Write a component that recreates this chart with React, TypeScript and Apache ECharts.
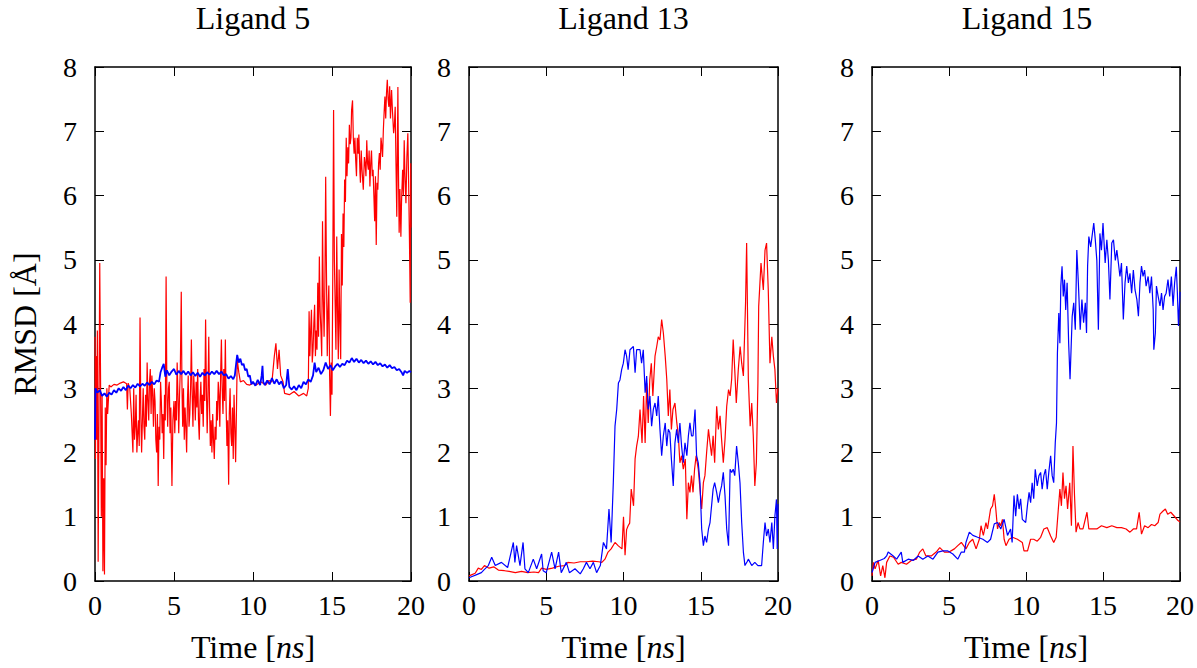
import React, { useEffect, useRef } from "react";
import * as echarts from "echarts";

type Pt = [number, number];

const panelTitles = ["Ligand 5", "Ligand 13", "Ligand 15"];
const xTicks = { min: 0, max: 20, interval: 5 };
const yTicks = { min: 0, max: 8, interval: 1 };

const lig5Red: Pt[] = [
  [0, 3.8], [0.03, 1.9], [0.06, 3.5], [0.1, 2.2], [0.15, 3.9], [0.2, 0.3], [0.25, 2.5], [0.3, 4.95], [0.35, 3.2], [0.4, 1.0],
  [0.45, 2.9], [0.5, 0.15], [0.55, 1.6], [0.6, 0.1], [0.65, 2.7], [0.7, 1.8], [0.75, 3.0], [0.8, 2.6], [0.9, 3.05], [1.0, 3.02],
  [1.2, 3.06], [1.4, 3.05], [1.6, 3.08], [1.8, 3.1], [2.0, 3.07], [2.05, 2.67], [2.1, 3.08], [2.2, 3.0], [2.3, 2.6],
  [2.4, 2.0], [2.45, 3.0], [2.5, 2.2], [2.55, 2.4], [2.6, 2.9], [2.65, 2.0], [2.7, 2.3], [2.75, 2.5], [2.8, 2.1], [2.85, 4.1],
  [2.9, 2.6], [2.95, 2.0], [3.0, 2.5], [3.05, 3.0], [3.1, 2.4], [3.15, 2.2], [3.2, 2.9], [3.25, 2.4], [3.3, 3.4], [3.35, 2.8],
  [3.4, 2.5], [3.45, 3.1], [3.5, 3.3], [3.55, 2.6], [3.6, 3.2], [3.65, 2.9], [3.7, 2.4], [3.75, 3.0], [3.8, 2.8], [3.85, 2.2],
  [3.9, 2.0], [3.95, 2.6], [4.0, 1.48], [4.05, 2.4], [4.1, 2.2], [4.15, 3.1], [4.2, 2.8], [4.25, 2.3], [4.3, 2.6], [4.35, 1.9],
  [4.4, 2.9], [4.45, 2.5], [4.5, 4.74], [4.55, 2.9], [4.6, 2.4], [4.65, 3.0], [4.7, 3.1], [4.75, 2.3], [4.8, 2.7], [4.87, 1.48],
  [4.93, 2.5], [5.0, 2.8], [5.05, 2.3], [5.1, 2.8], [5.15, 2.5], [5.2, 3.4], [5.25, 2.9], [5.3, 2.3], [5.35, 2.9], [5.4, 3.3],
  [5.46, 4.5], [5.5, 3.1], [5.55, 2.4], [5.6, 3.0], [5.65, 2.2], [5.7, 2.7], [5.75, 2.4], [5.8, 2.0], [5.85, 2.8], [5.9, 3.2],
  [5.95, 2.4], [6.0, 2.6], [6.05, 3.0], [6.1, 3.76], [6.15, 2.9], [6.2, 2.4], [6.25, 3.2], [6.3, 2.9], [6.35, 2.5], [6.4, 3.1],
  [6.45, 2.7], [6.5, 3.3], [6.55, 2.5], [6.6, 2.2], [6.65, 2.8], [6.7, 3.1], [6.75, 2.6], [6.8, 2.9], [6.85, 2.4], [6.9, 3.3],
  [6.95, 2.8], [7.0, 4.07], [7.05, 3.0], [7.1, 2.3], [7.15, 2.9], [7.2, 3.8], [7.25, 2.7], [7.3, 2.1], [7.35, 2.5], [7.4, 2.0],
  [7.45, 2.6], [7.5, 2.2], [7.55, 1.9], [7.6, 2.4], [7.66, 2.2], [7.7, 2.8], [7.75, 2.5], [7.8, 3.1], [7.85, 2.9], [7.9, 2.4],
  [7.95, 3.2], [8.0, 3.76], [8.05, 3.0], [8.1, 2.6], [8.15, 3.3], [8.2, 2.8], [8.25, 3.76], [8.3, 2.7], [8.35, 2.1], [8.4, 2.5],
  [8.46, 1.5], [8.5, 2.6], [8.55, 3.0], [8.6, 2.3], [8.65, 2.1], [8.7, 2.7], [8.75, 1.9], [8.8, 2.9], [8.85, 2.4], [8.9, 1.85],
  [8.95, 2.6], [9.0, 3.45], [9.1, 3.25], [9.2, 3.1], [9.4, 3.12], [9.6, 3.06], [9.8, 3.05], [10.0, 3.08], [10.2, 3.05], [10.5, 3.1],
  [10.8, 3.05], [11.0, 3.12], [11.2, 3.1], [11.35, 3.5], [11.45, 3.7], [11.55, 3.3], [11.65, 3.6], [11.75, 3.2], [11.9, 3.1], [12.0, 2.92],
  [12.3, 2.9], [12.6, 2.95], [12.9, 2.88], [13.2, 2.92], [13.4, 2.88], [13.5, 3.0],
  [13.55, 4.2], [13.6, 3.5], [13.65, 3.9], [13.7, 4.22], [13.75, 3.4], [13.8, 3.6], [13.85, 4.0], [13.9, 4.3], [13.95, 3.5], [14.0, 3.9],
  [14.05, 3.6], [14.1, 4.64], [14.15, 3.8], [14.2, 5.05], [14.25, 4.2], [14.3, 3.9], [14.35, 3.5], [14.4, 5.6], [14.45, 4.4], [14.5, 3.8],
  [14.55, 4.6], [14.6, 6.29], [14.65, 4.8], [14.7, 3.5], [14.75, 4.2], [14.8, 4.6], [14.85, 3.2], [14.9, 2.57], [14.95, 3.4], [15.0, 2.9],
  [15.05, 4.8], [15.1, 7.33], [15.15, 5.0], [15.2, 4.3], [15.25, 3.6], [15.3, 5.36], [15.35, 4.2], [15.4, 3.45], [15.45, 4.85], [15.5, 4.0],
  [15.55, 3.45], [15.6, 5.4], [15.65, 4.6], [15.7, 5.72], [15.75, 5.2], [15.8, 6.25], [15.85, 5.9], [15.9, 6.9], [15.95, 6.3], [16.0, 6.75],
  [16.05, 6.5], [16.1, 7.1], [16.15, 6.8], [16.2, 6.9], [16.24, 7.33], [16.3, 7.48], [16.35, 6.9], [16.4, 6.65], [16.45, 6.9], [16.5, 6.55],
  [16.55, 6.3], [16.6, 6.9], [16.66, 6.65], [16.7, 6.95], [16.77, 6.35], [16.8, 6.2], [16.85, 6.7], [16.9, 6.4], [16.98, 6.09], [17.05, 6.6],
  [17.1, 6.5], [17.15, 6.3], [17.2, 6.86], [17.25, 6.5], [17.3, 6.4], [17.35, 6.7], [17.4, 6.14], [17.45, 6.5], [17.5, 6.7], [17.55, 6.3],
  [17.6, 6.4], [17.65, 6.0], [17.7, 5.6], [17.75, 6.3], [17.8, 5.23], [17.85, 6.2], [17.9, 6.09], [17.95, 6.5], [18.0, 6.66], [18.05, 6.4],
  [18.1, 6.9], [18.14, 6.8], [18.2, 6.6], [18.25, 7.02], [18.3, 7.3], [18.35, 7.54], [18.4, 7.2], [18.45, 7.6], [18.5, 7.8], [18.55, 7.5],
  [18.6, 7.38], [18.65, 7.7], [18.7, 7.2], [18.77, 7.64], [18.83, 7.3], [18.9, 6.97], [18.95, 7.1], [19.0, 7.38], [19.05, 6.5], [19.1, 5.67],
  [19.14, 6.8], [19.17, 7.69], [19.21, 6.3], [19.25, 5.42], [19.3, 6.1], [19.36, 5.36], [19.4, 5.9], [19.47, 6.4], [19.52, 6.0], [19.57, 6.86],
  [19.62, 6.3], [19.68, 5.88], [19.74, 6.6], [19.8, 6.97], [19.85, 6.2], [19.9, 5.36], [19.95, 4.33], [19.98, 6.5], [20.0, 5.5],
];

const lig5Blue: Pt[] = [
  [0, 2.2], [0.03, 3.0], [0.15, 2.93], [0.3, 2.97], [0.45, 2.88], [0.6, 2.92], [0.75, 2.87], [0.9, 2.93], [1.05, 2.9], [1.2, 2.97],
  [1.35, 2.93], [1.5, 3.0], [1.65, 2.96], [1.8, 3.02], [1.95, 2.97], [2.1, 3.04], [2.25, 3.0], [2.4, 3.05], [2.55, 3.01], [2.7, 3.07],
  [2.85, 3.03], [3.0, 3.07], [3.15, 3.04], [3.3, 3.09], [3.45, 3.05], [3.6, 3.1], [3.75, 3.06], [3.9, 3.12], [4.05, 3.1], [4.15, 3.25],
  [4.25, 3.32], [4.35, 3.38], [4.45, 3.18], [4.55, 3.28], [4.7, 3.2], [4.85, 3.26], [5.0, 3.3], [5.15, 3.21], [5.3, 3.27], [5.45, 3.22],
  [5.6, 3.27], [5.75, 3.21], [5.9, 3.26], [6.05, 3.2], [6.2, 3.25], [6.35, 3.19], [6.5, 3.24], [6.65, 3.18], [6.8, 3.24], [6.95, 3.2],
  [7.1, 3.25], [7.25, 3.21], [7.4, 3.26], [7.55, 3.22], [7.7, 3.27], [7.85, 3.22], [8.0, 3.26], [8.15, 3.2], [8.3, 3.22], [8.45, 3.15],
  [8.6, 3.19], [8.75, 3.14], [8.85, 3.2], [8.95, 3.42], [9.0, 3.52], [9.1, 3.4], [9.2, 3.46], [9.3, 3.36], [9.4, 3.38], [9.5, 3.28],
  [9.6, 3.3], [9.7, 3.18], [9.8, 3.2], [9.9, 3.06], [10.0, 3.1], [10.15, 3.04], [10.3, 3.13], [10.45, 3.05], [10.55, 3.2], [10.6, 3.35],
  [10.65, 3.1], [10.75, 3.05], [10.9, 3.12], [11.05, 3.06], [11.2, 3.16], [11.35, 3.07], [11.5, 3.14], [11.65, 3.06], [11.8, 3.11], [11.95, 3.0],
  [12.1, 3.05], [12.2, 3.3], [12.3, 3.02], [12.45, 2.98], [12.6, 3.03], [12.75, 2.97], [12.9, 3.05], [13.05, 3.0], [13.2, 3.1], [13.35, 3.06],
  [13.5, 3.14], [13.65, 3.1], [13.8, 3.2], [13.9, 3.4], [14.0, 3.25], [14.15, 3.32], [14.3, 3.22], [14.45, 3.28], [14.6, 3.4], [14.75, 3.3],
  [14.9, 3.36], [15.05, 3.28], [15.2, 3.34], [15.35, 3.38], [15.5, 3.33], [15.65, 3.38], [15.8, 3.36], [15.95, 3.43], [16.1, 3.4], [16.25, 3.47],
  [16.4, 3.41], [16.55, 3.46], [16.7, 3.4], [16.85, 3.44], [17.0, 3.39], [17.15, 3.43], [17.3, 3.38], [17.45, 3.42], [17.6, 3.37], [17.75, 3.41],
  [17.9, 3.36], [18.05, 3.39], [18.2, 3.34], [18.35, 3.37], [18.5, 3.32], [18.65, 3.36], [18.8, 3.31], [18.95, 3.33], [19.1, 3.28], [19.25, 3.3],
  [19.4, 3.25], [19.5, 3.2], [19.6, 3.27], [19.75, 3.24], [19.9, 3.27], [20, 3.25],
];

const lig13Red: Pt[] = [
  [0, 0.08], [0.2, 0.1], [0.4, 0.12], [0.6, 0.2], [0.8, 0.18], [1.0, 0.24], [1.3, 0.2], [1.6, 0.22], [1.9, 0.17], [2.3, 0.16],
  [2.6, 0.15], [3.0, 0.13], [3.4, 0.15], [3.8, 0.13], [4.2, 0.14], [4.5, 0.13], [4.7, 0.2], [5.0, 0.18], [5.4, 0.2], [5.8, 0.23],
  [6.2, 0.24], [6.4, 0.29], [6.8, 0.28], [7.2, 0.3], [7.6, 0.3], [8.0, 0.31], [8.4, 0.3], [8.6, 0.29], [8.8, 0.34], [9.0, 0.45],
  [9.2, 0.5], [9.45, 0.6], [9.65, 0.55], [9.9, 0.5], [10.0, 1.0], [10.1, 0.4], [10.2, 0.8], [10.3, 0.86], [10.4, 0.9], [10.5, 1.43],
  [10.65, 1.17], [10.75, 1.9], [10.85, 2.1], [10.96, 2.25], [11.07, 2.67], [11.2, 2.15], [11.3, 2.88], [11.4, 2.15], [11.5, 3.08], [11.6, 2.46],
  [11.7, 3.13], [11.8, 3.39], [11.9, 2.88], [12.04, 3.5], [12.15, 3.65], [12.25, 3.8], [12.36, 3.75], [12.47, 4.07], [12.58, 3.86], [12.7, 3.5],
  [12.8, 3.14], [12.9, 2.57], [13.0, 2.98], [13.1, 2.36], [13.2, 2.67], [13.33, 2.77], [13.45, 2.46], [13.55, 2.26], [13.65, 1.84], [13.76, 1.95],
  [13.87, 1.74], [14.0, 1.9], [14.1, 0.96], [14.2, 1.53], [14.3, 1.38], [14.4, 1.64], [14.5, 1.38], [14.6, 1.74], [14.7, 1.95], [14.84, 1.74],
  [14.95, 1.43], [15.06, 1.12], [15.17, 1.53], [15.27, 1.64], [15.38, 2.0], [15.5, 2.36], [15.6, 2.15], [15.7, 1.95], [15.8, 2.26], [15.9, 1.84],
  [16.03, 2.72], [16.14, 2.36], [16.25, 2.57], [16.35, 2.2], [16.46, 1.84], [16.57, 2.2], [16.68, 2.72], [16.8, 2.98], [16.9, 2.88], [17.0, 3.14],
  [17.1, 3.76], [17.2, 3.29], [17.3, 2.77], [17.43, 3.29], [17.55, 3.65], [17.65, 3.39], [17.76, 3.19], [17.9, 4.33], [17.97, 5.26], [18.08, 3.14],
  [18.2, 2.41], [18.3, 2.77], [18.4, 2.26], [18.5, 1.48], [18.6, 1.84], [18.7, 3.08], [18.75, 4.27], [18.9, 4.95], [19.05, 4.53], [19.16, 5.15],
  [19.26, 5.26], [19.37, 4.53], [19.48, 3.39], [19.6, 3.8], [19.7, 3.5], [19.8, 3.29], [19.9, 2.77], [20, 3.0],
];

const lig13Blue: Pt[] = [
  [0, 0.05], [0.2, 0.07], [0.5, 0.1], [0.8, 0.13], [1.0, 0.18], [1.25, 0.24], [1.47, 0.37], [1.7, 0.24], [2.1, 0.29], [2.5, 0.21],
  [2.87, 0.6], [2.97, 0.29], [3.08, 0.55], [3.3, 0.24], [3.5, 0.6], [3.62, 0.19], [3.84, 0.13], [4.16, 0.34], [4.38, 0.19], [4.7, 0.42],
  [4.8, 0.16], [5.0, 0.13], [5.35, 0.45], [5.57, 0.19], [5.8, 0.45], [5.97, 0.13], [6.3, 0.29], [6.5, 0.13], [6.86, 0.19], [7.2, 0.11],
  [7.4, 0.19], [7.6, 0.29], [7.83, 0.19], [8.05, 0.29], [8.26, 0.13], [8.5, 0.24], [8.7, 0.6], [8.9, 0.5], [9.06, 1.12], [9.2, 0.6],
  [9.34, 1.53], [9.45, 2.41], [9.56, 2.67], [9.67, 3.08], [9.77, 3.13], [9.88, 3.29], [9.99, 3.39], [10.1, 3.6], [10.2, 3.5], [10.3, 3.29],
  [10.42, 3.6], [10.64, 3.65], [10.75, 3.24], [10.85, 3.6], [11.07, 3.6], [11.17, 3.39], [11.28, 3.6], [11.4, 2.93], [11.5, 3.19], [11.6, 2.67],
  [11.71, 2.88], [11.82, 2.41], [11.93, 2.67], [12.04, 2.77], [12.15, 2.57], [12.25, 2.88], [12.36, 2.36], [12.47, 1.95], [12.58, 2.26], [12.7, 2.46],
  [12.8, 2.1], [12.9, 2.36], [13.0, 2.31], [13.1, 1.9], [13.22, 1.48], [13.33, 2.15], [13.44, 2.36], [13.55, 2.15], [13.65, 2.46], [13.76, 2.1],
  [13.87, 1.84], [13.98, 2.15], [14.1, 1.95], [14.2, 2.26], [14.3, 2.46], [14.4, 2.26], [14.5, 2.26], [14.63, 2.67], [14.73, 1.95], [14.84, 1.84],
  [14.95, 1.53], [15.06, 0.81], [15.17, 0.55], [15.27, 0.7], [15.38, 0.6], [15.5, 0.81], [15.6, 0.91], [15.7, 1.17], [15.8, 1.43], [15.9, 1.53],
  [16.03, 1.38], [16.14, 1.22], [16.25, 1.38], [16.35, 1.48], [16.46, 1.69], [16.57, 1.33], [16.68, 0.81], [16.8, 0.55], [16.9, 1.74], [17.0, 1.69],
  [17.1, 1.74], [17.2, 1.64], [17.32, 2.1], [17.43, 1.84], [17.54, 1.53], [17.65, 0.91], [17.76, 0.45], [17.86, 0.24], [18.0, 0.3], [18.08, 0.34],
  [18.3, 0.24], [18.5, 0.29], [18.7, 0.24], [18.94, 0.24], [19.05, 0.6], [19.16, 0.91], [19.26, 0.7], [19.37, 0.81], [19.48, 0.6], [19.6, 0.91],
  [19.7, 0.5], [19.8, 1.01], [19.9, 1.27], [19.95, 0.5], [20, 1.2],
];

const lig15Red: Pt[] = [
  [0, 0.08], [0.09, 0.29], [0.2, 0.19], [0.4, 0.32], [0.56, 0.08], [0.7, 0.24], [0.84, 0.05], [0.95, 0.29], [1.16, 0.39], [1.4, 0.37],
  [1.7, 0.26], [1.9, 0.29], [2.24, 0.26], [2.55, 0.32], [2.88, 0.34], [3.1, 0.45], [3.3, 0.5], [3.5, 0.39], [3.85, 0.39], [4.17, 0.45],
  [4.4, 0.52], [4.7, 0.45], [5.0, 0.45], [5.35, 0.5], [5.57, 0.55], [5.8, 0.6], [6.1, 0.5], [6.32, 0.6], [6.54, 0.65], [6.76, 0.5],
  [6.97, 0.65], [7.08, 0.86], [7.23, 0.71], [7.4, 0.91], [7.5, 0.81], [7.7, 1.12], [7.83, 1.17], [7.94, 1.35], [8.04, 1.12], [8.15, 0.81],
  [8.26, 0.91], [8.36, 0.86], [8.47, 0.96], [8.58, 0.65], [8.7, 0.55], [8.9, 0.65], [9.12, 0.68], [9.44, 0.65], [9.76, 0.6], [9.87, 0.47],
  [10.1, 0.47], [10.3, 0.65], [10.5, 0.65], [10.73, 0.62], [10.95, 0.68], [11.16, 0.81], [11.38, 0.83], [11.6, 0.7], [11.8, 0.6], [11.96, 0.68],
  [12.1, 1.12], [12.2, 1.43], [12.3, 1.17], [12.4, 1.69], [12.5, 1.28], [12.6, 1.48], [12.7, 1.12], [12.84, 1.53], [12.95, 0.86], [13.05, 2.1],
  [13.15, 1.33], [13.25, 0.76], [13.38, 0.91], [13.5, 0.81], [13.7, 0.81], [13.96, 1.07], [14.08, 0.81], [14.3, 0.81], [14.6, 0.81], [14.9, 0.86],
  [15.25, 0.83], [15.57, 0.86], [15.9, 0.83], [16.2, 0.83], [16.5, 0.81], [16.75, 0.76], [16.97, 0.81], [17.18, 0.81], [17.35, 1.07], [17.5, 0.73],
  [17.7, 0.86], [17.93, 0.83], [18.15, 0.88], [18.36, 0.86], [18.58, 0.91], [18.7, 1.04], [18.9, 1.09], [19.05, 1.12], [19.2, 1.04], [19.4, 1.07],
  [19.66, 1.0], [19.87, 0.94], [20, 0.92],
];

const lig15Blue: Pt[] = [
  [0, 0.13], [0.2, 0.29], [0.5, 0.32], [0.8, 0.35], [0.95, 0.39], [1.05, 0.45], [1.38, 0.39], [1.6, 0.34], [1.9, 0.45], [2.0, 0.29],
  [2.35, 0.34], [2.67, 0.32], [3.0, 0.39], [3.3, 0.34], [3.63, 0.39], [3.96, 0.34], [4.28, 0.45], [4.6, 0.47], [4.9, 0.47], [5.25, 0.42],
  [5.57, 0.34], [5.8, 0.45], [6.0, 0.45], [6.1, 0.6], [6.32, 0.76], [6.55, 0.71], [6.86, 0.68], [7.2, 0.65], [7.5, 0.6], [7.7, 0.65],
  [7.94, 0.89], [8.15, 0.91], [8.36, 0.81], [8.58, 0.96], [8.8, 0.71], [9.0, 0.81], [9.1, 0.6], [9.22, 1.33], [9.33, 1.01], [9.44, 1.35],
  [9.55, 1.12], [9.65, 1.28], [9.76, 0.96], [9.98, 0.91], [10.09, 1.17], [10.2, 1.38], [10.3, 1.22], [10.4, 1.53], [10.5, 1.28], [10.6, 1.74],
  [10.73, 1.48], [10.84, 1.64], [10.95, 1.69], [11.05, 1.43], [11.16, 1.64], [11.27, 1.74], [11.38, 1.43], [11.48, 1.69], [11.6, 1.95], [11.7, 1.64],
  [11.8, 1.53], [11.9, 2.15], [11.98, 2.46], [12.04, 3.55], [12.13, 4.17], [12.2, 3.7], [12.26, 4.59], [12.34, 4.9], [12.42, 4.43], [12.5, 4.69],
  [12.58, 4.22], [12.67, 4.64], [12.77, 3.7], [12.86, 3.14], [13.0, 4.12], [13.1, 4.33], [13.2, 3.91], [13.3, 5.15], [13.4, 4.64], [13.52, 3.91],
  [13.63, 4.38], [13.74, 4.02], [13.85, 4.33], [13.93, 3.86], [14.0, 4.9], [14.08, 5.36], [14.2, 5.2], [14.4, 5.57], [14.5, 5.31], [14.6, 4.99],
  [14.7, 3.91], [14.8, 5.41], [14.9, 5.15], [15.0, 5.57], [15.14, 4.95], [15.25, 5.31], [15.35, 4.99], [15.45, 4.38], [15.57, 5.26], [15.68, 5.31],
  [15.8, 4.99], [15.9, 5.15], [16.0, 4.95], [16.1, 4.74], [16.2, 4.95], [16.32, 4.07], [16.43, 4.64], [16.54, 4.9], [16.65, 4.64], [16.75, 4.79],
  [16.86, 4.48], [16.97, 4.84], [17.08, 4.53], [17.2, 4.38], [17.3, 4.12], [17.4, 4.64], [17.5, 4.9], [17.6, 4.74], [17.7, 4.84], [17.8, 4.59],
  [17.93, 4.74], [18.04, 4.48], [18.15, 4.74], [18.26, 4.22], [18.3, 3.6], [18.4, 3.86], [18.47, 4.59], [18.58, 4.43], [18.7, 4.28], [18.8, 4.48],
  [18.9, 4.22], [19.0, 4.43], [19.1, 4.48], [19.22, 4.69], [19.33, 4.43], [19.44, 4.74], [19.55, 4.28], [19.65, 4.64], [19.76, 4.89], [19.83, 4.48],
  [19.9, 3.97], [20, 4.5],
];

const redSeries = [lig5Red, lig13Red, lig15Red];
const blueSeries = [lig5Blue, lig13Blue, lig15Blue];

const FONT = "'Liberation Serif', 'Times New Roman', serif";
const FS = 28;
const FS_BIG = 32;

const grids = [
  { left: 95, top: 67, width: 316, height: 515 },
  { left: 469, top: 67, width: 309, height: 515 },
  { left: 872, top: 67, width: 310, height: 515 },
];

export default function App() {
  const ref = useRef<HTMLDivElement>(null);
  useEffect(() => {
    if (!ref.current) return;
    const chart = echarts.init(ref.current, undefined, { renderer: "svg" });
    const frameLine = { show: true, onZero: false, lineStyle: { color: "#000", width: 1.5 } };
    const tick = { show: true, inside: true, length: 9, lineStyle: { color: "#000", width: 1 } };
    const xAxes: any[] = [];
    const yAxes: any[] = [];
    const series: any[] = [];
    grids.forEach((g, i) => {
      xAxes.push({
        type: "value", gridIndex: i, position: "bottom", ...xTicks,
        axisLine: frameLine, axisTick: tick, splitLine: { show: false },
        axisLabel: { show: true, margin: 10, color: "#000", fontFamily: FONT, fontSize: FS },
        name: "Time [{i|ns}]", nameLocation: "middle", nameGap: 50,
        nameTextStyle: {
          color: "#000", fontFamily: FONT, fontSize: FS_BIG,
          rich: { i: { fontStyle: "italic", fontFamily: FONT, fontSize: FS_BIG, color: "#000" } },
        },
      });
      xAxes.push({
        type: "value", gridIndex: i, position: "top", ...xTicks,
        axisLine: frameLine, axisTick: tick, splitLine: { show: false }, axisLabel: { show: false },
      });
      yAxes.push({
        type: "value", gridIndex: i, position: "left", ...yTicks,
        axisLine: frameLine, axisTick: tick, splitLine: { show: false },
        axisLabel: { show: true, margin: 18, color: "#000", fontFamily: FONT, fontSize: FS },
        ...(i === 0
          ? {
              name: "RMSD [Å]", nameLocation: "middle", nameGap: 54, nameRotate: 90,
              nameTextStyle: { color: "#000", fontFamily: FONT, fontSize: FS_BIG },
            }
          : {}),
      });
      yAxes.push({
        type: "value", gridIndex: i, position: "right", ...yTicks,
        axisLine: frameLine, axisTick: tick, splitLine: { show: false }, axisLabel: { show: false },
      });
      series.push({
        type: "line", xAxisIndex: 2 * i, yAxisIndex: 2 * i, data: redSeries[i],
        showSymbol: false, symbol: "none", clip: true,
        lineStyle: { color: "#ff0000", width: 1.2 }, z: 2,
      });
      series.push({
        type: "line", xAxisIndex: 2 * i, yAxisIndex: 2 * i, data: blueSeries[i],
        showSymbol: false, symbol: "none", clip: true,
        lineStyle: { color: "#0000ff", width: i === 0 ? 1.8 : 1.2 }, z: 3,
      });
    });
    chart.setOption({
      animation: false,
      backgroundColor: "#fff",
      title: panelTitles.map((t, i) => ({
        text: t,
        left: grids[i].left + grids[i].width / 2,
        top: 2,
        textAlign: "center",
        padding: 0,
        textStyle: { color: "#000", fontFamily: FONT, fontSize: FS_BIG, fontWeight: "normal" },
      })),
      grid: grids.map((g) => ({ ...g, containLabel: false })),
      xAxis: xAxes,
      yAxis: yAxes,
      series,
    });
    return () => chart.dispose();
  }, []);
  return (
    <div
      ref={ref}
      style={{ position: "fixed", left: 0, top: 0, width: 1197, height: 668, background: "#fff" }}
    />
  );
}
